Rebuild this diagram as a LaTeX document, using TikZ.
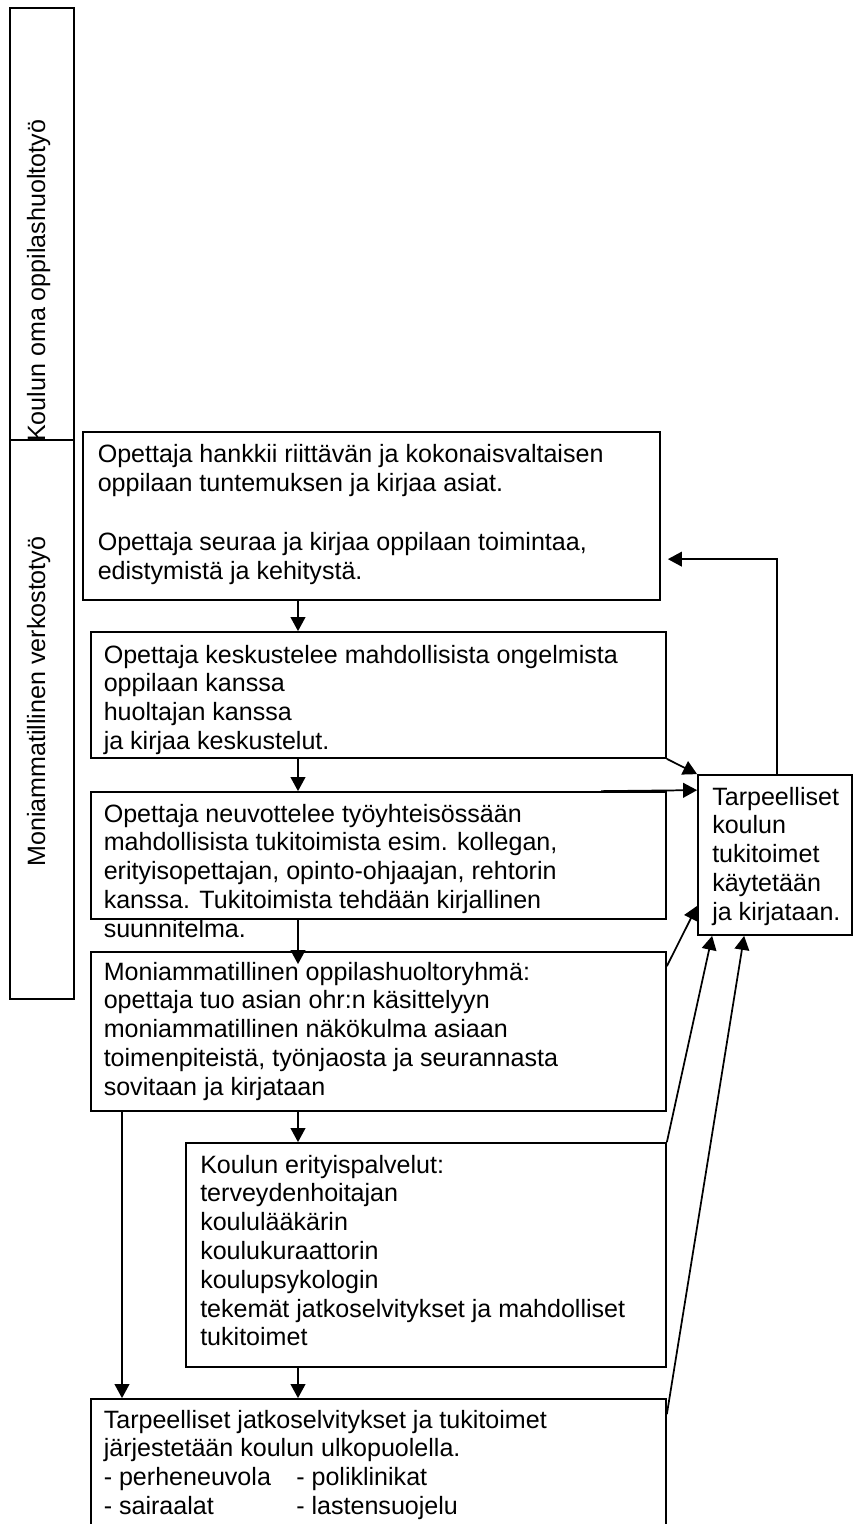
\documentclass[tikz,border=0pt]{standalone}
\usepackage{fontspec}
\setmainfont{Liberation Sans}
\usetikzlibrary{arrows.meta,fit,calc}
\newcommand\mylines[1]{\begin{tabular}[t]{@{}l@{}}#1\end{tabular}}
\begin{document}
\begin{tikzpicture}[x=0.75pt,y=-0.75pt,
  box/.style={draw, line width=1.3pt, inner sep=0pt},
  txt/.style={inner sep=0pt, anchor=base west, font=\fontsize{18.8}{21.6}\selectfont},
  arr/.style={line width=1.3pt, -{Triangle[length=10.5pt,width=11pt]}}]
\useasboundingbox (0,0) rectangle (853,1524);
\clip (0,0) rectangle (853,1524);
% side boxes
\node[box, fit={(10,8)(74,440)}] (L1) {};
\node[box, fit={(10,440)(74,999)}] (L2) {};
\node[txt, rotate=90] (L1t) at (45,442) {Koulun oma oppilashuoltotyö};
\node[txt, rotate=90] (L2t) at (45,867) {Moniammatillinen verkostotyö};
% main boxes
\node[box, fit={(83,432)(660,600)}] (B1) {};
\node[txt, font=\fontsize{18.8}{22.1}\selectfont] (B1t) at (97.5,462) {\mylines{Opettaja hankkii riittävän ja kokonaisvaltaisen\\
oppilaan tuntemuksen ja kirjaa asiat.\\
\\
Opettaja seuraa ja kirjaa oppilaan toimintaa,\\
edistymistä ja kehitystä.}};
\node[box, fit={(91,632)(666,758)}] (B2) {};
\node[txt] (B2t) at (103.5,663) {\mylines{Opettaja keskustelee mahdollisista ongelmista\\
oppilaan kanssa\\
huoltajan kanssa\\
ja kirjaa keskustelut.}};
\node[box, fit={(91,792)(666,919)}] (B3) {};
\node[txt] (B3t) at (103.5,822) {\mylines{Opettaja neuvottelee työyhteisössään\\
mahdollisista tukitoimista esim. kollegan,\\
erityisopettajan, opinto-ohjaajan, rehtorin\\
kanssa. Tukitoimista tehdään kirjallinen\\
suunnitelma.}};
\node[box, fit={(91,952)(666,1111)}] (B4) {};
\node[txt] (B4t) at (103.5,980) {\mylines{Moniammatillinen oppilashuoltoryhmä:\\
opettaja tuo asian ohr:n käsittelyyn\\
moniammatillinen näkökulma asiaan\\
toimenpiteistä, työnjaosta ja seurannasta\\
sovitaan ja kirjataan}};
\node[box, fit={(186,1143)(666,1367)}] (B6) {};
\node[txt] (B6t) at (200,1173) {\mylines{Koulun erityispalvelut:\\
terveydenhoitajan\\
koululääkärin\\
koulukuraattorin\\
koulupsykologin\\
tekemät jatkoselvitykset ja mahdolliset\\
tukitoimet}};
\node[box, fit={(91,1399)(666,1560)}] (B7) {};
\node[txt] (B7t) at (103.5,1428) {\mylines{Tarpeelliset jatkoselvitykset ja tukitoimet\\
järjestetään koulun ulkopuolella.\\
\makebox[144.4pt][l]{- perheneuvola}- poliklinikat\\
\makebox[144.4pt][l]{- sairaalat}- lastensuojelu}};
\node[box, fit={(698,775)(852,935)}] (T) {};
\node[txt] (Tt) at (712,805) {\mylines{Tarpeelliset\\koulun\\tukitoimet\\käytetään\\ja kirjataan.}};
% connectors
\coordinate (spine) at (298,0);
\coordinate (lspine) at (122,0);
\draw[arr] (B1.south -| spine) -- (B2.north -| spine);
\draw[arr] (B2.south -| spine) -- (B3.north -| spine);
\draw[arr] (B3.south -| spine) -- ($(B4.north -| spine)+(0,13)$);
\draw[arr] (B4.south -| spine) -- (B6.north -| spine);
\draw[arr] (B6.south -| spine) -- (B7.north -| spine);
\draw[arr] (B4.south -| lspine) -- (B7.north -| lspine);
\draw[arr] (B2.south east) -- (T.north west);
\draw[arr] ($(B3.north west)+(511,0)$) -- ($(T.north west)+(0,16)$);
\draw[arr] ($(B4.north east)+(0,15)$) -- ($(T.south west)+(0,-30)$);
\draw[arr] (B6.north east) -- ($(T.south west)+(15,0)$);
\draw[arr] ($(B7.north east)+(0,16)$) -- ($(T.south west)+(47,0)$);
\draw[arr] ($(T.north west)+(80,0)$) |- ($(B1.north east)+(7,128)$);
\end{tikzpicture}
\end{document}
